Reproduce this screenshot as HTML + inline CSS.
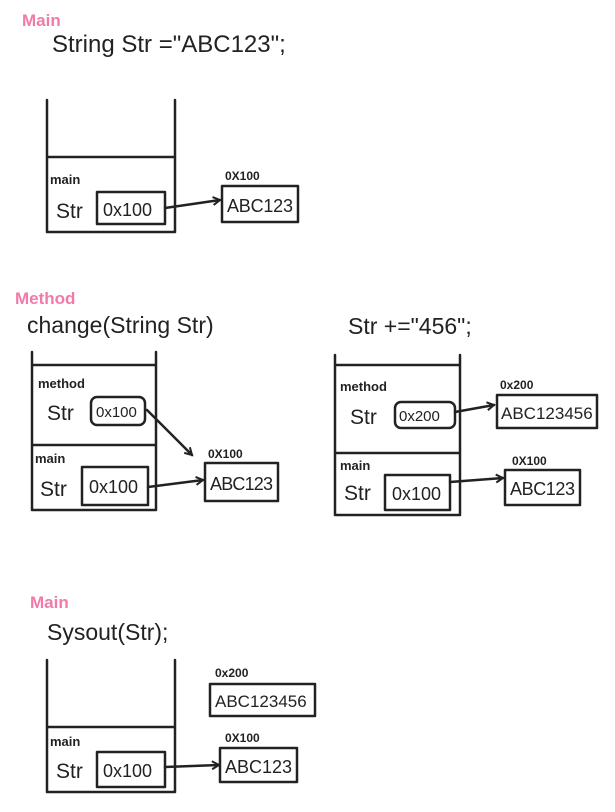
<!DOCTYPE html>
<html><head><style>
html,body{margin:0;padding:0;background:#fff;}
svg{display:block;}
text{font-family:"Liberation Sans",sans-serif;fill:#222;}
.p{fill:#f27aa8;font-weight:bold;}
.b{fill:none;stroke:#222;stroke-width:2.5;stroke-linecap:round;stroke-linejoin:round;}
</style></head><body>
<svg width="615" height="812" viewBox="0 0 615 812" xmlns="http://www.w3.org/2000/svg">
<defs><marker id="a" markerWidth="10" markerHeight="10" refX="8" refY="5" orient="auto" markerUnits="userSpaceOnUse"><path d="M1,1 L8,5 L1,9" fill="none" stroke="#222" stroke-width="2"/></marker></defs>

<text x="22" y="26" class="p" font-size="17">Main</text>
<text x="52" y="52" font-size="24">String Str ="ABC123";</text>
<path class="b" d="M47,100 V232 H175 V100 M47,157 H175"/>
<text x="50" y="184" font-size="13" font-weight="bold">main</text>
<text x="56" y="218" font-size="21">Str</text>
<rect class="b" x="97" y="192" width="68" height="32"/>
<text x="103" y="216" font-size="18">0x100</text>
<path class="b" d="M165,208 L220,200" marker-end="url(#a)"/>
<text x="225" y="180" font-size="12" font-weight="bold">0X100</text>
<rect class="b" x="222" y="186" width="76" height="36"/>
<text x="227" y="212" font-size="18" textLength="66">ABC123</text>

<text x="15" y="304" class="p" font-size="17">Method</text>
<text x="27" y="333" font-size="23">change(String Str)</text>
<path class="b" d="M32,352 V510 H156 V352 M32,365 H156 M32,445 H156"/>
<text x="38" y="388" font-size="13" font-weight="bold">method</text>
<text x="47" y="420" font-size="21">Str</text>
<rect class="b" x="91" y="397" width="54" height="28" rx="6"/>
<text x="96" y="417" font-size="15">0x100</text>
<path class="b" d="M147,410 L192,455" marker-end="url(#a)"/>
<text x="35" y="463" font-size="13" font-weight="bold">main</text>
<text x="40" y="496" font-size="21">Str</text>
<rect class="b" x="82" y="467" width="66" height="38"/>
<text x="89" y="493" font-size="18">0x100</text>
<path class="b" d="M148,487 L203,480" marker-end="url(#a)"/>
<text x="208" y="458" font-size="12" font-weight="bold">0X100</text>
<rect class="b" x="205" y="463" width="73" height="38"/>
<text x="210" y="490" font-size="18" textLength="63">ABC123</text>

<text x="348" y="334" font-size="23">Str +="456";</text>
<path class="b" d="M335,355 V515 H460 V355 M335,365 H460 M335,453 H460"/>
<text x="340" y="391" font-size="13" font-weight="bold">method</text>
<text x="350" y="424" font-size="21">Str</text>
<rect class="b" x="395" y="402" width="60" height="26" rx="6"/>
<text x="399" y="421" font-size="15">0x200</text>
<path class="b" d="M455,412 L494,405" marker-end="url(#a)"/>
<text x="500" y="389" font-size="12" font-weight="bold">0x200</text>
<rect class="b" x="497" y="395" width="100" height="33"/>
<text x="501" y="419" font-size="17">ABC123456</text>
<text x="340" y="470" font-size="13" font-weight="bold">main</text>
<text x="344" y="500" font-size="21">Str</text>
<rect class="b" x="385" y="475" width="65" height="35"/>
<text x="392" y="500" font-size="18">0x100</text>
<path class="b" d="M450,482 L503,478" marker-end="url(#a)"/>
<text x="512" y="465" font-size="12" font-weight="bold">0X100</text>
<rect class="b" x="505" y="470" width="75" height="35"/>
<text x="510" y="495" font-size="18" textLength="65">ABC123</text>

<text x="30" y="608" class="p" font-size="17">Main</text>
<text x="47" y="640" font-size="23">Sysout(Str);</text>
<path class="b" d="M47,660 V792 H175 V660 M47,727 H175"/>
<text x="50" y="746" font-size="13" font-weight="bold">main</text>
<text x="56" y="778" font-size="21">Str</text>
<rect class="b" x="97" y="752" width="68" height="35"/>
<text x="103" y="777" font-size="18">0x100</text>
<path class="b" d="M165,767 L219,765" marker-end="url(#a)"/>
<text x="225" y="742" font-size="12" font-weight="bold">0X100</text>
<rect class="b" x="220" y="748" width="77" height="34"/>
<text x="225" y="773" font-size="18" textLength="67">ABC123</text>
<text x="215" y="677" font-size="12" font-weight="bold">0x200</text>
<rect class="b" x="210" y="684" width="105" height="32"/>
<text x="215" y="707" font-size="17">ABC123456</text>
</svg>
</body></html>
